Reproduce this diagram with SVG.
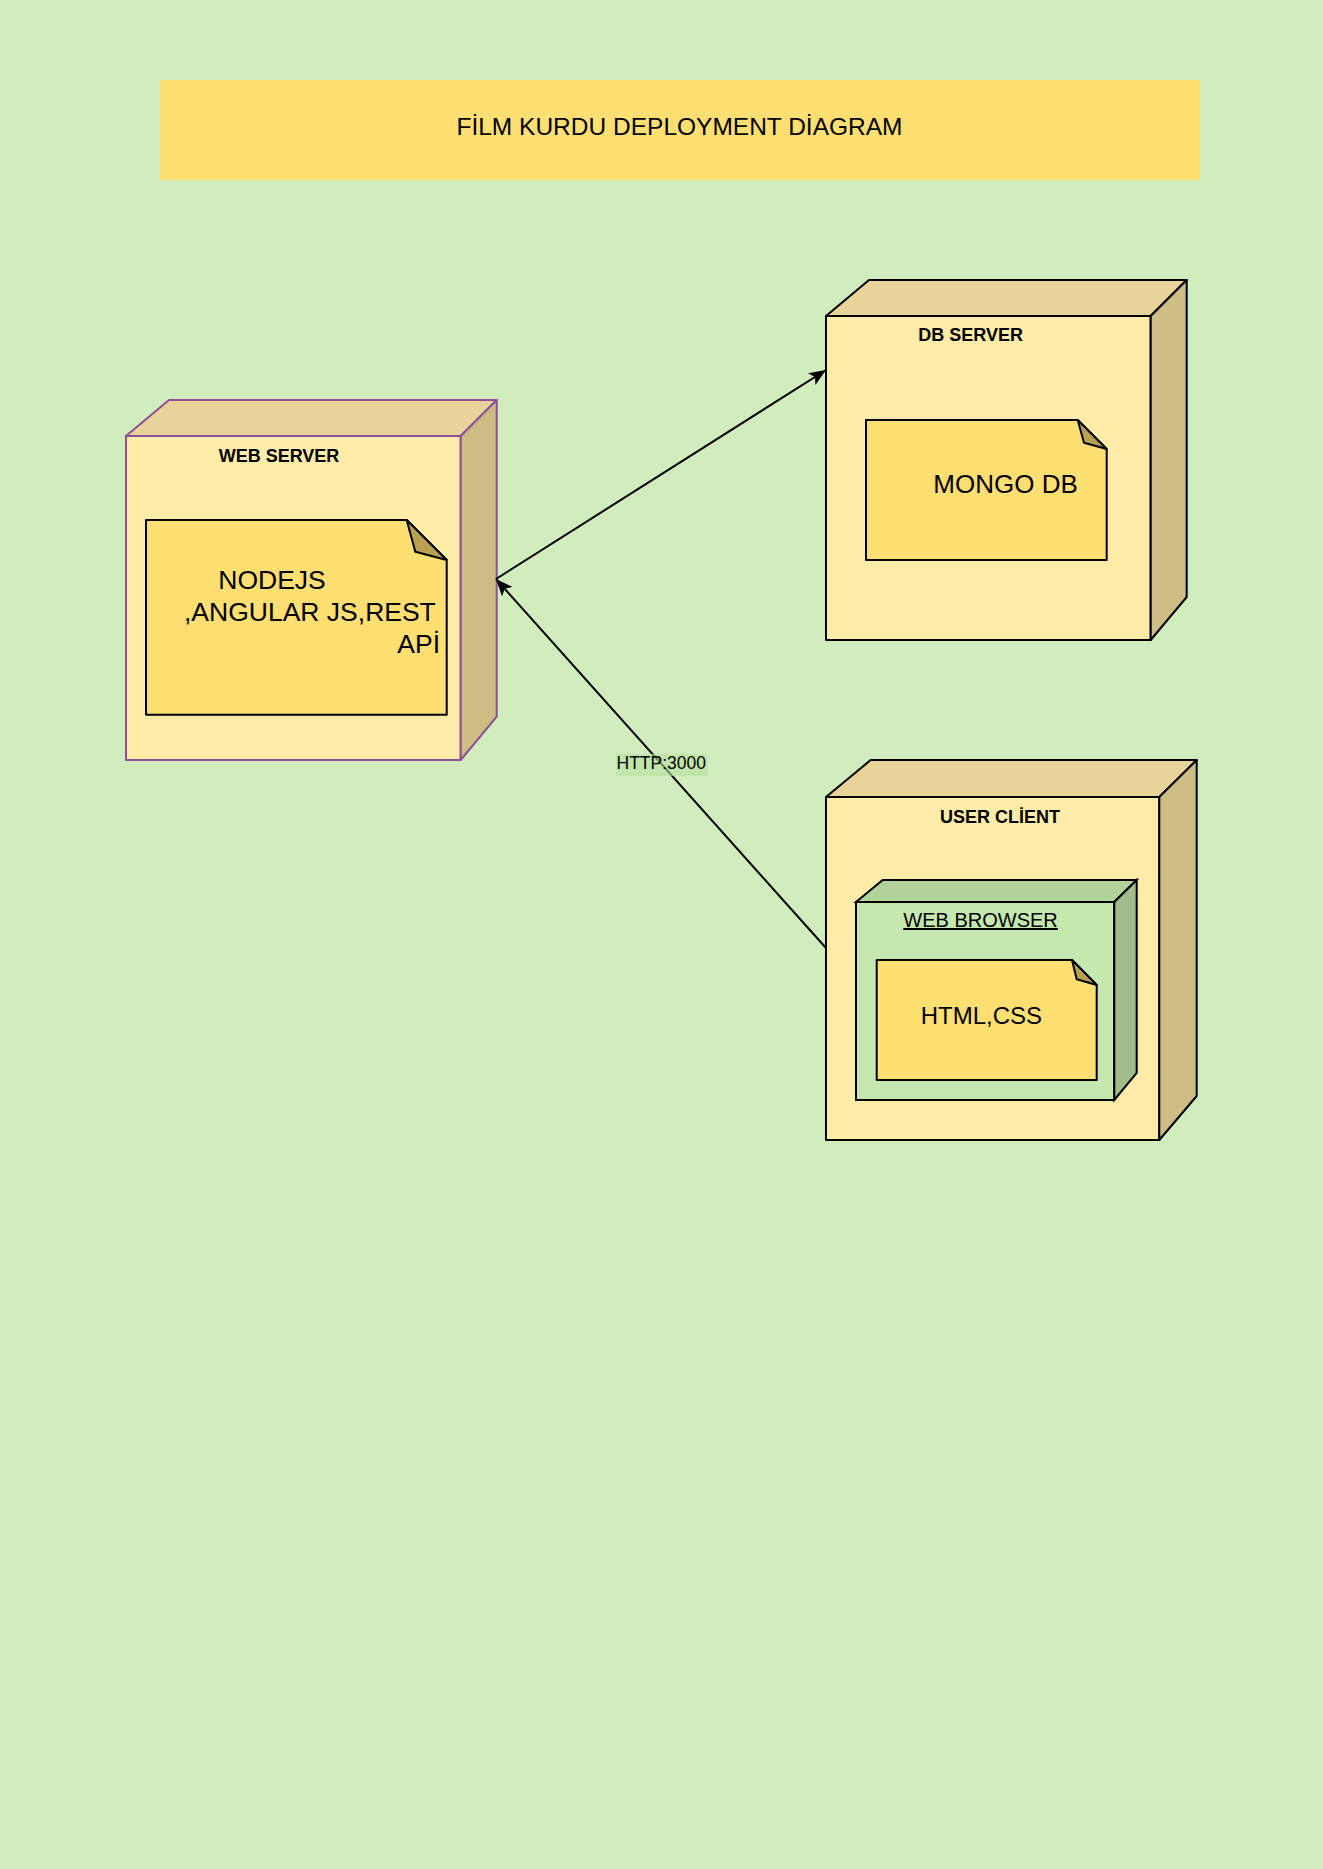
<svg xmlns="http://www.w3.org/2000/svg" width="1323" height="1869" viewBox="0 0 1323 1869">
<style>
.front{fill:#FFECA8;stroke:#000;stroke-width:2;stroke-linejoin:round}
.top{fill:#E8D498;stroke:#000;stroke-width:2;stroke-linejoin:round}
.side{fill:#CDBD85;stroke:#000;stroke-width:2;stroke-linejoin:round}
.purple .front,.purple .top,.purple .side{stroke:#8E4E9A}
.gfront{fill:#C5E8B0;stroke:#000;stroke-width:2}
.gtop{fill:#B1D39A;stroke:#000;stroke-width:2}
.gside{fill:#9FBC8A;stroke:#000;stroke-width:2}
.note{fill:#FFDE72;stroke:#000;stroke-width:2;stroke-linejoin:round}
.fold{fill:#B9A052;stroke:#000;stroke-width:2;stroke-linejoin:round}
.lbl{font-family:"Liberation Sans",Arial,sans-serif;font-weight:bold;font-size:18px;fill:#000;text-anchor:middle}
.txt{font-family:"Liberation Sans",Arial,sans-serif;font-size:26px;fill:#000}
.edge{stroke:#000;stroke-width:2;fill:none}
</style>
<defs>
<marker id="arr" markerUnits="userSpaceOnUse" markerWidth="18" markerHeight="14" refX="17" refY="7" orient="auto" viewBox="0 0 18 14">
<path d="M0,0 L17,7 L0,14 L4,7 Z" fill="#000"/>
</marker>
</defs>
<rect width="1323" height="1869" fill="#D1EDBE"/>
<g id="title">
<rect x="160" y="80" width="1040" height="100" fill="#FFDF72"/>
<text x="679.5" y="135" class="txt" style="font-size:24.5px" text-anchor="middle">FİLM KURDU DEPLOYMENT DİAGRAM</text>
</g>
<g id="web-server" class="purple">
<rect class="front" x="126" y="436" width="334.7" height="324"/>
<polygon class="top" points="126,436 169,400 496.7,400 460.7,436"/>
<polygon class="side" points="460.7,436 496.7,400 496.7,716.7 460.7,760"/>
<text class="lbl" x="279" y="461.5">WEB SERVER</text>
</g>
<g id="nodejs-note">
<path class="note" d="M146,520 H406.7 L446.7,560 V714.7 H146 Z"/>
<path class="fold" d="M406.7,520 L415.3,551.7 L446.7,560 Z"/>
<text class="txt" x="272" y="589" text-anchor="middle" style="font-size:26.5px">NODEJS</text>
<text class="txt" x="184" y="621" style="font-size:26.5px">,ANGULAR JS,REST</text>
<text class="txt" x="440" y="653" text-anchor="end" style="font-size:26.5px">APİ</text>
</g>
<g id="db-server">
<rect class="front" x="826" y="316" width="324.7" height="324"/>
<polygon class="top" points="826,316 869,280 1186.7,280 1150.7,316"/>
<polygon class="side" points="1150.7,316 1186.7,280 1186.7,597 1150.7,640"/>
<text class="lbl" x="970.7" y="340.5">DB SERVER</text>
</g>
<g id="mongodb-note">
<path class="note" d="M866,420 H1077.7 L1106.7,449 V560 H866 Z"/>
<path class="fold" d="M1077.7,420 L1084,442.7 L1106.7,449 Z"/>
<text class="txt" x="933.3" y="493">MONGO DB</text>
</g>
<g id="user-client">
<rect class="front" x="826" y="797" width="333.3" height="343"/>
<polygon class="top" points="826,797 870.7,760 1196.7,760 1159.3,797"/>
<polygon class="side" points="1159.3,797 1196.7,760 1196.7,1096 1159.3,1140"/>
<text class="lbl" x="1000" y="823">USER CLİENT</text>
</g>
<g id="web-browser">
<rect class="gfront" x="856" y="902" width="258.3" height="198"/>
<polygon class="gtop" points="856,902 882.7,880 1136.7,880 1114.3,902"/>
<polygon class="gside" points="1114.3,902 1136.7,880 1136.7,1073 1114.3,1100"/>
<text class="txt" x="903.3" y="927" style="font-size:20px" text-decoration="underline">WEB BROWSER</text>
</g>
<g id="html-note">
<path class="note" d="M876.7,960 H1072 L1096.7,985 V1080 H876.7 Z"/>
<path class="fold" d="M1072,960 L1076.7,979.3 L1096.7,985 Z"/>
<text class="txt" x="920.7" y="1024" style="font-size:24px">HTML,CSS</text>
</g>
<g id="connectors">
<line class="edge" x1="496" y1="579" x2="826" y2="370" marker-end="url(#arr)"/>
<line class="edge" x1="826" y1="948" x2="496" y2="579" marker-end="url(#arr)"/>
<rect x="616" y="754" width="92" height="22" fill="#B4DE9D" opacity="0.6"/>
<text x="616.5" y="768.5" class="txt" style="font-size:17.5px">HTTP:3000</text>
</g>
</svg>
